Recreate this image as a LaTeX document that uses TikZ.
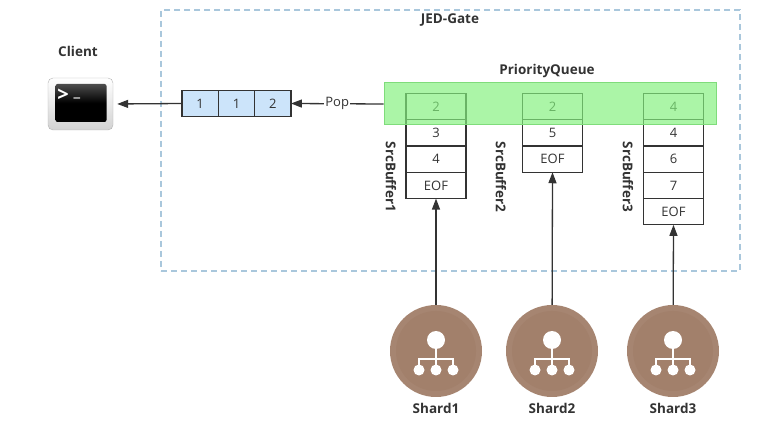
\documentclass[tikz,border=0pt]{standalone}
\usepackage{fontspec}
\setmainfont{Open Sans}
\usetikzlibrary{arrows.meta}
\definecolor{lineC}{HTML}{333333}
\definecolor{gateC}{HTML}{A9C7DC}
\definecolor{qfill}{HTML}{CCE4FA}
\definecolor{pqfill}{HTML}{83F17D}
\definecolor{pqdraw}{HTML}{7FDC7B}
\definecolor{shardC}{HTML}{A68571}
\definecolor{shardIn}{HTML}{A2806B}
\begin{document}
\begin{tikzpicture}[x=1pt,y=-1pt,
  lbl/.style={font=\bfseries\fontsize{13.5}{15}\selectfont, text=lineC},
  cell/.style={draw=lineC, line width=1.3pt, outer sep=0pt, minimum width=60pt, minimum height=26.3pt, inner sep=0pt, font=\fontsize{13}{15}\selectfont, text=lineC},
  qcell/.style={draw=lineC, line width=1.3pt, outer sep=0pt, fill=qfill, minimum width=36.3pt, minimum height=26.5pt, inner sep=0pt, font=\fontsize{13}{15}\selectfont, text=lineC},
  arr/.style={draw=lineC, line width=1.3pt, -{Triangle[length=11pt,width=8pt]}},
  shard/.style={circle, fill=shardC, minimum size=92pt, inner sep=0pt},
  rot/.style={lbl, rotate=-90}
]
\useasboundingbox (0,0) rectangle (772,422);
% gate
\node[draw=gateC, line width=1.1pt, dash pattern=on 6pt off 4pt, minimum width=579pt, minimum height=261pt, inner sep=0pt] (gate) at (450.5,140.5) {};
\node[lbl] (gatelbl) at (450,20) {JED-Gate};
% client
\node[lbl] (clientlbl) at (78,51) {Client};
\node[draw=gray!60, rounded corners=5pt, minimum width=65pt, minimum height=52pt, inner sep=0pt,
  top color=white, bottom color=gray!35] (client) at (80.5,104) {};
\node[rounded corners=2pt, minimum width=51pt, minimum height=38pt, inner sep=0pt,
  top color=black!70, bottom color=black, middle color=black] (screen) at (81,103) {};
\node[text=white, font=\bfseries\fontsize{20}{20}\selectfont, inner sep=0pt] (prompt) at (63,95) {>};
\node[text=white, font=\bfseries\fontsize{16}{16}\selectfont, inner sep=0pt] (cursor) at (77,98) {\_};
% queue
\node[qcell] (q1) at (200.2,103.5) {1};
\node[qcell] (q2) at (236.5,103.5) {1};
\node[qcell] (q3) at (272.8,103.5) {2};
% buffers
\node[cell] (b11) at (436,106.5) {2};
\node[cell, anchor=north] (b12) at (b11.south) {3};
\node[cell, anchor=north] (b13) at (b12.south) {4};
\node[cell, anchor=north] (b14) at (b13.south) {EOF};
\node[cell] (b21) at (552.5,106.5) {2};
\node[cell, anchor=north] (b22) at (b21.south) {5};
\node[cell, anchor=north] (b23) at (b22.south) {EOF};
\node[cell] (b31) at (673.5,106.5) {4};
\node[cell, anchor=north] (b32) at (b31.south) {4};
\node[cell, anchor=north] (b33) at (b32.south) {6};
\node[cell, anchor=north] (b34) at (b33.south) {7};
\node[cell, anchor=north] (b35) at (b34.south) {EOF};
\node[rot] (sb1) at (391,177) {SrcBuffer1};
\node[rot] (sb2) at (501,177) {SrcBuffer2};
\node[rot] (sb3) at (628,177) {SrcBuffer3};
% priority queue
\node[draw=pqdraw, line width=1pt, fill=pqfill, fill opacity=0.68, minimum width=332pt, minimum height=42pt, inner sep=0pt] (pq) at (550,104) {};
\node[lbl] (pqlbl) at (547,71) {PriorityQueue};
% arrows
\draw[arr] (pq.west) -- node[fill=white, inner sep=1pt, font=\fontsize{13}{15}\selectfont, text=lineC] (pop) {Pop} (q3.east);
\draw[arr, shorten >=4pt] (q1.west) -- (client.east);
% shards
\foreach \n/\x in {1/436, 2/552, 3/673} {
  \node[shard] (s\n) at (\x,351) {};
  \fill[shardIn] (s\n.center) circle[radius=40pt];
  \fill[white] ([yshift=11pt]s\n.center) circle[radius=9pt];
  \draw[white, line width=2pt] ([yshift=4pt]s\n.center) -- ([yshift=-8pt]s\n.center);
  \draw[white, line width=2pt] ([xshift=-17pt,yshift=-19pt]s\n.center) -- ([xshift=-17pt,yshift=-8pt]s\n.center) -- ([xshift=17pt,yshift=-8pt]s\n.center) -- ([xshift=17pt,yshift=-19pt]s\n.center);
  \draw[white, line width=2pt] ([yshift=-8pt]s\n.center) -- ([yshift=-19pt]s\n.center);
  \foreach \dx in {-17,0,17} \fill[white] ([xshift=\dx pt,yshift=-19pt]s\n.center) circle[radius=5.5pt];
  \node[lbl] (sl\n) at (\x,408) {Shard\n};
}
\draw[arr] (s1) -- (b14.south);
\draw[arr] (s2) -- (b23.south);
\draw[arr] (s3) -- (b35.south);
\end{tikzpicture}
\end{document}
